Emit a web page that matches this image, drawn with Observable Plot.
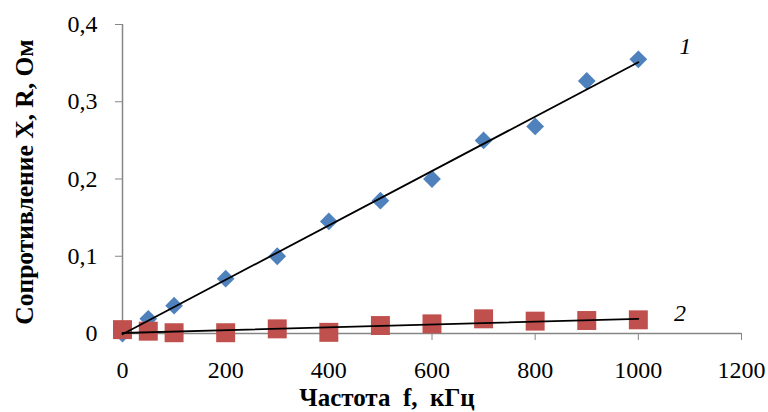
<!DOCTYPE html>
<html>
<head>
<meta charset="utf-8">
<script src="https://cdn.jsdelivr.net/npm/d3@7"></script>
<script src="https://cdn.jsdelivr.net/npm/@observablehq/plot@0.6"></script>
<style>
  html, body { margin: 0; padding: 0; background: #fff; }
  svg { display: block; }
  svg text { white-space: pre; }
</style>
</head>
<body>
<div id="chart"></div>
<script>
// Frequency, kHz
const freq = [0, 50, 100, 200, 300, 400, 500, 600, 700, 800, 900, 1000];
// Curve 1 (X), Ohm
const seriesX = [0.0, 0.019, 0.036, 0.071, 0.100, 0.145, 0.172, 0.200, 0.250, 0.268, 0.327, 0.355];
// Curve 2 (R), Ohm
const seriesR = [0.005, 0.003, 0.001, 0.001, 0.006, 0.0015, 0.0103, 0.0125, 0.019, 0.016, 0.0168, 0.0177];
const xTicks = [0, 200, 400, 600, 800, 1000, 1200];
const yTicks = [0, 0.1, 0.2, 0.3, 0.4];
const curveLabels = ["1", "2"];

const dataX = freq.map((f, i) => ({f, v: seriesX[i]}));
const dataR = freq.map((f, i) => ({f, v: seriesR[i]}));

const fmt = d => d === 0 ? "0" : String(d).replace(".", ",");
const axisColor = "#868686";
const serif = "'Liberation Serif', 'Times New Roman', serif";

const chart = Plot.plot({
  width: 768,
  height: 412,
  marginLeft: 122,
  marginRight: 27,
  marginTop: 24,
  marginBottom: 79,
  style: {fontFamily: serif, fontSize: "24px", color: "#000", background: "#fff"},
  x: {domain: [0, 1200], ticks: xTicks, label: null},
  y: {domain: [0, 0.4], ticks: yTicks, label: null},
  marks: [
    Plot.ruleX([0], {stroke: axisColor, strokeWidth: 1.5}),
    Plot.ruleY([0], {stroke: axisColor, strokeWidth: 1.5}),
    Plot.axisX({ticks: xTicks, tickSize: 7, tickPadding: 20, stroke: axisColor, tickFormat: fmt, fontSize: 24, fill: "#000"}),
    Plot.axisY({ticks: yTicks, tickSize: 7, tickPadding: 18, stroke: axisColor, tickFormat: fmt, fontSize: 24, fill: "#000"}),
    Plot.dot(dataX, {x: "f", y: "v", symbol: "diamond2", r: 8, fill: "#4F81BD", stroke: "none"}),
    Plot.dot(dataR, {x: "f", y: "v", symbol: "square", r: 10.7, fill: "#C0504D", stroke: "none"}),
    Plot.linearRegressionY(dataX, {x: "f", y: "v", stroke: "#000", strokeWidth: 1.8, ci: 0}),
    Plot.linearRegressionY(dataR, {x: "f", y: "v", stroke: "#000", strokeWidth: 1.8, ci: 0}),
    Plot.text([curveLabels[0]], {x: 1091, y: 0.372, text: d => d, fontStyle: "italic", fontSize: 24}),
    Plot.text([curveLabels[1]], {x: 1081, y: 0.026, text: d => d, fontStyle: "italic", fontSize: 24}),
    Plot.text(["Частота  f,  кГц"], {frameAnchor: "bottom", textAnchor: "middle", lineAnchor: "middle", dx: -45, dy: 64, fontWeight: "bold", fontSize: 25, fill: "#000"}),
    Plot.text(["Сопротивление X, R, Ом"], {frameAnchor: "left", textAnchor: "middle", dx: -98, dy: 3, rotate: -90, fontWeight: "bold", fontSize: 25.5, fill: "#000"})
  ]
});
document.getElementById("chart").appendChild(chart);
</script>
</body>
</html>
